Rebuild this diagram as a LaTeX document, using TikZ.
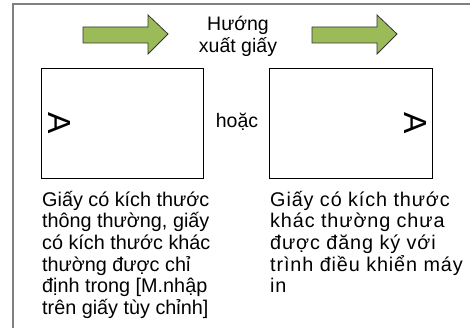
\documentclass[tikz,border=0pt]{standalone}
\usepackage{fontspec}
\setmainfont{Liberation Sans}
\newfontfamily\widefont[LetterSpace=4.5]{Liberation Sans}
\usetikzlibrary{positioning}
\definecolor{arrowgreen}{HTML}{9BBB59}
\definecolor{framegray}{HTML}{808080}
\tikzset{
  feedarrow/.style={draw=black!80, line width=0.8pt, fill=arrowgreen},
  sheet/.style={draw, line width=0.9pt, fill=white},
  caption/.style={align=left, inner sep=0pt, anchor=base west,
                  font=\fontsize{19.8}{21.7}\selectfont},
  label/.style={align=center, inner sep=0pt, font=\fontsize{19.5}{22}\selectfont},
}
\begin{document}
\begin{tikzpicture}[x=1pt, y=-1pt]
  \useasboundingbox (0,0) rectangle (470,328);
  % frame
  \draw[framegray, line width=1.8pt] (13,340) -- (13,4) -- (480,4);
  % feed direction arrows
  \draw[feedarrow] (83,27) -- (148,27) -- (148,15) -- (168,34) -- (148,54) -- (148,43) -- (83,43) -- cycle;
  \draw[feedarrow] (312,27) -- (377,27) -- (377,15) -- (397,34) -- (377,54) -- (377,43) -- (312,43) -- cycle;
  \node[label] (dir) at (238,36) {Hướng\\xuất giấy};
  % paper sheets
  \draw[sheet] (41,68) rectangle (203,178);
  \draw[sheet] (269,68) rectangle (432,178);
  \node[font=\fontsize{32}{32}\selectfont, rotate=-90, inner sep=0pt] (aleft) at (60,123) {A};
  \node[font=\fontsize{32}{32}\selectfont, rotate=-90, inner sep=0pt] (aright) at (415,123) {A};
  \node[label, anchor=base] (or) at (237,128) {hoặc};
  % captions (base = last line)
  \node[caption] (capleft) at (42,314.5) {Giấy có kích thước\\thông thường, giấy\\có kích thước khác\\thường được chỉ\\định trong [M.nhập\\trên giấy tùy chỉnh]};
  \node[caption, font=\fontsize{19.8}{21.7}\widefont] (capright) at (270,292.8) {Giấy có kích thước\\khác thường chưa\\được đăng ký với\\trình điều khiển máy\\in};
\end{tikzpicture}
\end{document}
